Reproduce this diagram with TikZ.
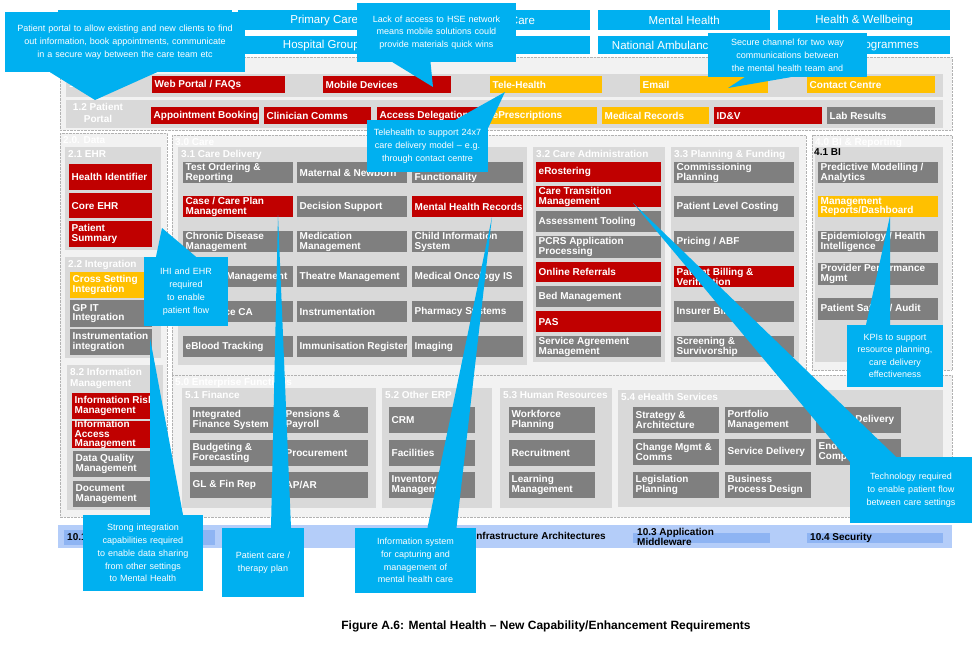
\documentclass[tikz,border=0pt]{standalone}
\usepackage{fontspec}
\setmainfont{Liberation Sans}
\usetikzlibrary{positioning}
\usetikzlibrary{calc}
\definecolor{hsered}{HTML}{C00000}
\definecolor{hseamber}{HTML}{FFC000}
\definecolor{hsegray}{HTML}{7F7F7F}
\definecolor{hsecyan}{HTML}{00B0F0}
\definecolor{panelbg}{HTML}{F2F2F2}
\definecolor{subbg}{HTML}{D9D9D9}
\definecolor{barbg}{HTML}{B4CDF9}
\definecolor{barin}{HTML}{8EB4F3}
\newcommand\nohyph{\hyphenpenalty10000\exhyphenpenalty10000}
\tikzset{
  itembox/.style={fill=hsegray, inner sep=0pt, anchor=north west},
  redbox/.style={itembox, fill=hsered},
  ambbox/.style={itembox, fill=hseamber},
  itemtext/.style={text=white, font=\bfseries\fontsize{10}{9.6}\selectfont, align=left, inner xsep=2.5pt, inner ysep=0pt, anchor=west},
  panel/.style={fill=panelbg, draw=black!30, densely dotted},
  subpanel/.style={fill=subbg},
  plabel/.style={text=white, font=\bfseries\fontsize{10}{11.5}\selectfont, anchor=north west, inner sep=1pt},
  headbox/.style={fill=hsecyan, text=white, font=\fontsize{11.5}{12}\selectfont},
  callout/.style={fill=hsecyan, text=white, font=\nohyph\fontsize{9}{12.8}\selectfont, align=center, inner sep=2pt},
  barlabel/.style={font=\bfseries\fontsize{10}{10}\selectfont, align=left, inner sep=1pt}
}
% item: style, name, x, y, width, height, text
\newcommand\itm[7]{%
  \node[#1, minimum width=#5pt, minimum height=#6pt] (#2) at (#3,#4) {};
  \node[itemtext] at (#2.west) {#7};}
% panel: style, name, x1, y1, x2, y2, label
\newcommand\pnl[7]{\path[#1] (#3,#4) rectangle (#5,#6);
  \node[plabel, align=left] (#2) at (#3+2,#4+2) {#7};}
\begin{document}
\begin{tikzpicture}[x=1pt, y=-1pt]
  \useasboundingbox[fill=white] (0,0) rectangle (980,648);
  % header
  \node[headbox, minimum width=174pt, minimum height=20pt, anchor=north west] (acute) at (58,10) {Acute};
  \node[headbox, minimum width=172pt, minimum height=20pt, anchor=north west] (prim) at (238,10) {Primary Care};
  \node[headbox, minimum width=170pt, minimum height=20pt, anchor=north west] (soc) at (420,10) {Social Care};
  \node[headbox, minimum width=172pt, minimum height=18pt, anchor=north west] (hosp) at (238,36) {Hospital Groups};
  \node[headbox, minimum width=170pt, minimum height=18pt, anchor=north west] (blank) at (420,36) {};
  \node[headbox, minimum width=172pt, minimum height=20pt, anchor=north west] (mh) at (598,10) {Mental Health};
  \node[headbox, minimum width=172pt, minimum height=20pt, anchor=north west] (hw) at (778,10) {Health \& Wellbeing};
  \node[headbox, minimum width=172pt, minimum height=18pt, anchor=north west] (nas) at (598,36) {National Ambulance Service};
  \node[headbox, minimum width=172pt, minimum height=18pt, anchor=north west] (prog) at (778,36) {Change Programmes};
  % channels
  \path[panel] (60,57) rectangle (952,130);
  \path[subpanel] (66,74) rectangle (943,97);
  \path[subpanel] (66,100) rectangle (943,128);
  \node[plabel, anchor=west] (chan) at (68,84) {1.1 Channel};
  \node[plabel, anchor=center, align=center] (portal) at (98,113) {1.2 Patient\\Portal};
  \itm{redbox}{web}{152}{76}{133}{17}{Web Portal / FAQs}
  \itm{redbox}{mob}{323}{76}{128}{17}{Mobile Devices}
  \itm{ambbox}{tele}{490}{76}{112}{17}{Tele-Health}
  \itm{ambbox}{email}{640}{76}{128}{17}{Email}
  \itm{ambbox}{cc}{807}{76}{128}{17}{Contact Centre}
  \itm{redbox}{appt}{151}{107}{108}{17}{Appointment Booking}
  \itm{redbox}{clin}{264}{107}{107}{17}{Clinician Comms}
  \itm{redbox}{deleg}{377}{107}{107}{17}{Access Delegation}
  \itm{ambbox}{epres}{490}{107}{107}{17}{ePrescriptions}
  \itm{ambbox}{medrec}{602}{107}{107}{17}{Medical Records}
  \itm{redbox}{idv}{714}{107}{108}{17}{ID\&V}
  \itm{itembox}{lab}{827}{107}{108}{17}{Lab Results}
  % data
  \pnl{panel}{data}{60}{133}{167}{517}{2.0. Data}
  \pnl{subpanel}{ehr}{65}{147}{161}{250}{2.1 EHR}
  \itm{redbox}{hid}{69}{164}{83}{26}{Health Identifier}
  \itm{redbox}{core}{69}{193}{83}{25}{Core EHR}
  \itm{redbox}{psum}{69}{221}{83}{26}{Patient\\Summary}
  \pnl{subpanel}{integ}{65}{257}{161}{358}{2.2 Integration}
  \itm{ambbox}{cross}{70}{272}{80}{26}{Cross Setting\\Integration}
  \itm{itembox}{gpit}{70}{300}{82}{27}{GP IT\\Integration}
  \itm{itembox}{instr}{70}{329}{82}{26}{Instrumentation\\integration}
  \pnl{subpanel}{infom}{67}{365}{163}{510}{8.2 Information\\Management}
  \itm{redbox}{irm}{72}{393}{80}{26}{Information Risk\\Management}
  \itm{redbox}{iam}{72}{421}{80}{27}{Information\\Access\\Management}
  \itm{itembox}{dqm}{73}{451}{79}{26}{Data Quality\\Management}
  \itm{itembox}{docm}{73}{481}{79}{26}{Document\\Management}
  % care
  \pnl{panel}{care}{172}{135}{806}{375}{3.0 Care}
  \pnl{subpanel}{deliv}{178}{147}{527}{365}{3.1 Care Delivery}
  \itm{itembox}{tor}{183}{162}{110}{21}{Test Ordering \&\\Reporting}
  \itm{redbox}{ccp}{183}{196}{110}{21}{Case / Care Plan\\Management}
  \itm{itembox}{cdm}{183}{231}{110}{21}{Chronic Disease\\Management}
  \itm{itembox}{refm}{183}{266}{110}{21}{Referral Management}
  \itm{itembox}{resca}{183}{301}{110}{21}{Residence CA}
  \itm{itembox}{eblood}{183}{336}{110}{21}{eBlood Tracking}
  \itm{itembox}{matn}{297}{162}{110}{21}{Maternal \& Newborn}
  \itm{itembox}{dsup}{297}{196}{110}{21}{Decision Support}
  \itm{itembox}{medm}{297}{231}{110}{21}{Medication\\Management}
  \itm{itembox}{theat}{297}{266}{110}{21}{Theatre Management}
  \itm{itembox}{instm}{297}{301}{110}{21}{Instrumentation}
  \itm{itembox}{immun}{297}{336}{110}{21}{Immunisation Register}
  \itm{itembox}{genf}{412}{162}{111}{21}{Generic\\Functionality}
  \itm{redbox}{mhr}{412}{196}{111}{21}{Mental Health Records}
  \itm{itembox}{cis}{412}{231}{111}{21}{Child Information\\System}
  \itm{itembox}{onc}{412}{266}{111}{21}{Medical Oncology IS}
  \itm{itembox}{pharm}{412}{301}{111}{21}{Pharmacy Systems}
  \itm{itembox}{imag}{412}{336}{111}{21}{Imaging}
  \pnl{subpanel}{cadm}{533}{147}{665}{362}{3.2 Care Administration}
  \itm{redbox}{erost}{536}{162}{125}{20}{eRostering}
  \itm{redbox}{ctm}{536}{186}{125}{21}{Care Transition\\Management}
  \itm{itembox}{atool}{536}{211}{125}{21}{Assessment Tooling}
  \itm{itembox}{pcrs}{536}{236}{125}{22}{PCRS Application\\Processing}
  \itm{redbox}{oref}{536}{262}{125}{20}{Online Referrals}
  \itm{itembox}{bedm}{536}{286}{125}{21}{Bed Management}
  \itm{redbox}{pas}{536}{311}{125}{21}{PAS}
  \itm{itembox}{sam}{536}{336}{125}{21}{Service Agreement\\Management}
  \pnl{subpanel}{plan}{671}{147}{799}{362}{3.3 Planning \& Funding}
  \itm{itembox}{comm}{674}{162}{120}{21}{Commissioning\\Planning}
  \itm{itembox}{plc}{674}{196}{120}{21}{Patient Level Costing}
  \itm{itembox}{abf}{674}{231}{120}{21}{Pricing / ABF}
  \itm{redbox}{pbv}{674}{266}{120}{21}{Patient Billing \&\\Verification}
  \itm{itembox}{insb}{674}{301}{120}{21}{Insurer Billing}
  \itm{itembox}{scr}{674}{336}{120}{21}{Screening \&\\Survivorship}
  % bi
  \pnl{panel}{bi}{812}{135}{952}{370}{4.0 BI \& Reporting}
  \path[subpanel] (815,147) rectangle (943,362);
  \node[plabel, text=black] (bil) at (813,147) {4.1 BI};
  \itm{itembox}{pred}{818}{162}{120}{21}{Predictive Modelling /\\Analytics}
  \itm{ambbox}{mrd}{818}{196}{120}{21}{Management\\Reports/Dashboard}
  \itm{itembox}{epi}{818}{231}{120}{21}{Epidemiology / Health\\Intelligence}
  \itm{itembox}{ppm}{818}{263}{120}{22}{Provider Performance\\Mgmt}
  \itm{itembox}{psa}{818}{298}{120}{22}{Patient Safety / Audit}
  % enterprise
  \pnl{panel}{ent}{172}{375}{952}{517}{5.0 Enterprise Functions}
  \pnl{subpanel}{fin}{182}{388}{376}{508}{5.1 Finance}
  \itm{itembox}{ifs}{190}{407}{92}{26}{Integrated\\Finance System}
  \itm{itembox}{bud}{190}{440}{92}{26}{Budgeting \&\\Forecasting}
  \itm{itembox}{gl}{190}{472}{92}{26}{GL \& Fin Rep}
  \itm{itembox}{pens}{283}{407}{85}{26}{Pensions \&\\Payroll}
  \itm{itembox}{proc}{283}{440}{85}{26}{Procurement}
  \itm{itembox}{apar}{283}{472}{85}{26}{AP/AR}
  \pnl{subpanel}{erp}{382}{388}{492}{508}{5.2 Other ERP}
  \itm{itembox}{crm}{389}{407}{86}{26}{CRM}
  \itm{itembox}{facil}{389}{440}{86}{26}{Facilities}
  \itm{itembox}{inv}{389}{472}{86}{26}{Inventory\\Management}
  \pnl{subpanel}{hr}{500}{388}{612}{508}{5.3 Human Resources}
  \itm{itembox}{wfp}{509}{407}{86}{26}{Workforce\\Planning}
  \itm{itembox}{recr}{509}{440}{86}{26}{Recruitment}
  \itm{itembox}{lrn}{509}{472}{86}{26}{Learning\\Management}
  \pnl{subpanel}{ehs}{618}{390}{943}{507}{5.4 eHealth Services}
  \itm{itembox}{strat}{633}{407}{86}{26}{Strategy \&\\Architecture}
  \itm{itembox}{chg}{633}{439}{86}{26}{Change Mgmt \&\\Comms}
  \itm{itembox}{legis}{633}{472}{86}{26}{Legislation\\Planning}
  \itm{itembox}{port}{725}{407}{86}{26}{Portfolio\\Management}
  \itm{itembox}{sdel}{725}{439}{86}{26}{Service Delivery}
  \itm{itembox}{bpd}{725}{472}{86}{26}{Business\\Process Design}
  \itm{itembox}{pdel}{816}{407}{85}{26}{Project Delivery}
  \itm{itembox}{euc}{816}{439}{85}{26}{End User\\Computing}
  % bar
  \path[fill=barbg] (58,525) rectangle (952,548);
  \path[fill=barin] (64,530) rectangle (215,545);
  \path[fill=barin] (633,533) rectangle (770,543);
  \path[fill=barin] (807,533) rectangle (943,543);
  \node[barlabel, anchor=west] (b1) at (66,537) {10.1 Information};
  \node[barlabel, anchor=east] (b2) at (607,536) {10.2 Infrastructure Architectures};
  \node[barlabel, anchor=west] (b3) at (636,537) {10.3 Application\\Middleware};
  \node[barlabel, anchor=west] (b4) at (809,538) {10.4 Security};
  % callouts
  \coordinate (t1) at (95,100);
  \coordinate (t2) at (433,87);
  \coordinate (t3) at (505,92);
  \coordinate (t4) at (728,88);
  \coordinate (t5) at (162,228);
  \coordinate (t6) at (890,216);
  \coordinate (t7) at (633,203);
  \coordinate (t8) at (150,338);
  \coordinate (t9) at (278,215);
  \coordinate (t10) at (492,217);
  \node[callout, minimum width=240pt, minimum height=60pt, text width=234pt] (c1) at (125,42) {Patient portal to allow existing and new clients to find out information, book appointments, communicate in a secure way between the care team etc};
  \fill[hsecyan] ([xshift=-75pt]c1.south) -- (t1) -- ([xshift=32pt]c1.south) -- cycle;
  \node[callout, minimum width=159pt, minimum height=59pt, text width=150pt] (c2) at (436.5,32.5) {Lack of access to HSE network means mobile solutions could provide materials quick wins};
  \fill[hsecyan] ([xshift=-44pt]c2.south) -- (t2) -- ([xshift=-6pt]c2.south) -- cycle;
  \node[callout, minimum width=121pt, minimum height=52pt, text width=115pt] (c3) at (427.5,146) {Telehealth to support 24x7 care delivery model -- e.g. through contact centre};
  \fill[hsecyan] ([xshift=28pt]c3.north) -- (t3) -- ([yshift=-8pt]c3.north east) -- cycle;
  \node[callout, minimum width=159pt, minimum height=44pt, text width=150pt] (c4) at (787.5,55) {Secure channel for two way communications between the mental health team and};
  \fill[hsecyan] ([xshift=-43pt]c4.south) -- (t4) -- ([xshift=3pt]c4.south) -- cycle;
  \node[callout, minimum width=84pt, minimum height=69pt, text width=70pt] (c5) at (186,291.5) {IHI and EHR required to enable patient flow};
  \fill[hsecyan] ([xshift=-30pt]c5.north) -- (t5) -- ([xshift=10pt]c5.north) -- cycle;
  \node[callout, minimum width=96pt, minimum height=62pt, text width=90pt, font=\nohyph\fontsize{9}{12.2}\selectfont] (c6) at (895,356) {KPIs to support resource planning, care delivery effectiveness};
  \fill[hsecyan] ([xshift=-29pt]c6.north) -- (t6) -- ([xshift=-5pt]c6.north) -- cycle;
  \node[callout, minimum width=122pt, minimum height=66pt, text width=112pt] (c7) at (911,490) {Technology required to enable patient flow between care settings};
  \fill[hsecyan] ([yshift=-5pt]c7.north west) -- (t7) -- ([xshift=-15pt]c7.north) -- cycle;
  \node[callout, minimum width=120pt, minimum height=76pt, text width=112pt] (c8) at (143,553) {Strong integration capabilities required to enable data sharing from other settings to Mental Health};
  \fill[hsecyan] ([xshift=7pt]c8.north) -- (t8) -- ([xshift=40pt]c8.north) -- cycle;
  \node[callout, minimum width=82pt, minimum height=69pt, text width=60pt] (c9) at (263,562.5) {Patient care / therapy plan};
  \fill[hsecyan] ([xshift=8pt]c9.north) -- (t9) -- ([xshift=28pt]c9.north) -- cycle;
  \node[callout, minimum width=121pt, minimum height=65pt, text width=104pt] (c10) at (415.5,560.5) {Information system for capturing and management of mental health care};
  \fill[hsecyan] ([xshift=12pt]c10.north) -- (t10) -- ([xshift=41pt]c10.north) -- cycle;
  % caption
  \node[font=\bfseries\fontsize{12}{12}\selectfont] (cap) at (546,626) {Figure A.6: Mental Health -- New Capability/Enhancement Requirements};
\end{tikzpicture}
\end{document}
